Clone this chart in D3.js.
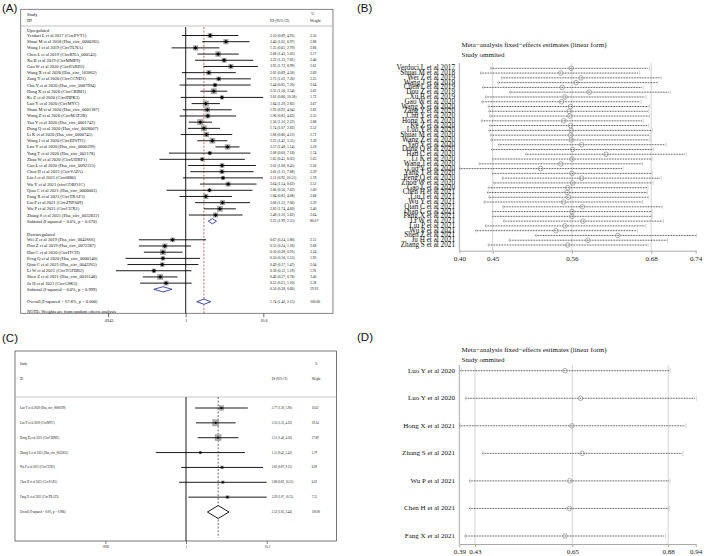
<!DOCTYPE html>
<html><head><meta charset="utf-8">
<script src="https://cdn.jsdelivr.net/npm/d3@7"></script>
<style>body{margin:0;background:#fff}svg{display:block}</style>
</head><body>
<svg id="c" width="709" height="556"></svg>
<script>
// ---------- Panel A data ----------
const aUpStudies = ["Verduci L et al 2017 (CircPVT1)","Shuai M et al 2018 (Hsa_circ_0000285)","Wang J et al 2019 (CircTLNA)","Chen L et al 2019 (CircRNA_000543)","Xu B et al 2019 (CircMMP9)","Gao W et al 2020 (CircPARD3)","Wang X et al 2020 (Hsa_circ_103862)","Zang Y et al 2020 (CircCCND1)","Chu Y et al 2020 (Hsa_circ_0087994)","Hong X et al 2020 (CircCRIM1)","Ke Z et al 2020 (CircHIPK3)","Luo Y et al 2020 (CircMYC)","Shuai M et al 2020 (Hsa_circ_0001387)","Wang Z et al 2020 (CircMAT2B)","Yao Y et al 2020 (Hsa_circ_0001742)","Dong Q et al 2020 (Hsa_circ_0028007)","Li K et al 2020 (Hsa_circ_0000745)","Wang J et al 2020 (CircEPSTI1)","Luo Y et al 2020 (Hsa_circ_0000199)","Yang T et al 2020 (Hsa_circ_002178)","Zhou W et al 2020 (CircUHRF1)","Gao L et al 2020 (Hsa_circ_0092125)","Chen H et al 2021 (CircVAPA)","Liu J et al 2021 (Circ0880)","Wu Y et al 2021 (circCORO1C)","Qian C et al 2021 (Hsa_circ_0000003)","Fang X et al 2021 (CircTRAF3)","Liu P et al 2021 (CircZNF609)","Wu P et al 2021 (CircCUX1)","Zhang S et al 2021 (Hsa_circ_0032822)"];
const aUpES = [2.10,3.40,1.35,2.68,3.22,3.95,2.02,2.73,2.44,2.35,3.01,1.84,1.93,1.96,1.56,1.74,1.88,2.25,3.57,2.08,1.65,3.02,3.01,3.11,3.64,2.06,1.84,3.06,2.83,2.48];
const aUpLo = [0.89,1.65,0.65,1.43,1.33,1.72,0.89,1.03,0.83,1.56,0.86,1.20,0.92,0.83,1.10,1.07,0.86,1.42,2.48,0.60,0.45,1.08,1.15,0.92,1.54,0.56,0.83,1.33,1.74,1.10];
const aUpHi = [4.95,6.97,2.79,5.02,7.81,8.99,4.58,7.26,7.20,3.54,10.58,2.83,4.04,4.62,2.22,2.83,4.12,3.55,5.14,7.18,6.05,8.45,7.88,10.51,8.62,7.62,4.08,7.06,4.60,5.62];
const aUpW = [2.50,2.88,2.86,3.17,2.46,2.61,2.69,2.25,2.04,3.62,1.72,3.67,2.83,2.55,3.88,3.52,2.72,3.39,3.18,1.74,1.65,2.16,2.29,1.78,2.52,1.60,2.68,2.59,3.40,2.64];
const aDownStudies = ["Wei Z et al 2019 (Hsa_circ_0042666)","Dou Z et al 2019 (Hsa_circ_0072387)","Han C et al 2020 (CircITCH)","Peng Q et al 2020 (Hsa_circ_0000140)","Qian C et al 2021 (Hsa_circ_0043265)","Li W et al 2021 (CircTGFBR2)","Shen Z et al 2021 (Hsa_circ_0016148)","Ju H et al 2021 (CircGSK3)"];
const aDownES = [0.67,0.53,0.50,0.50,0.49,0.38,0.46,0.55];
const aDownLo = [0.24,0.24,0.28,0.16,0.17,0.12,0.27,0.25];
const aDownHi = [1.86,1.18,0.91,1.55,1.47,1.19,0.78,1.20];
const aDownW = [2.15,2.68,3.24,1.93,2.04,1.91,3.40,2.38];
const aGroupNames = ["Upregulated","Downregulated"];
const aSubLabels = ["Subtotal  (I-squared = 0.0%, p = 0.670)","Subtotal  (I-squared = 0.0%, p = 0.999)"];
const aSubES = [2.25,0.50], aSubLo = [1.99,0.38], aSubHi = [2.55,0.66], aSubW = [80.07,19.93];
const aOverallLabel = "Overall  (I-squared = 67.8%, p = 0.000)";
const aOverall = [1.74,1.40,2.15,100.00];
const aNote = "NOTE: Weights are from random effects analysis";
const aTickVals = [0.0943,1,10.6], aTickLabels = [".0943","1","10.6"];

// ---------- Panel B data ----------
const bStudies = ["Verduci L et al 2017","Shuai M et al 2018","Wei Z et al 2019","Wang J et al 2019","Chen L et al 2019","Dou Z et al 2019","Xu B et al 2019","Gao W et al 2020","Wang X et al 2020","Zang Y et al 2020","Chu Y et al 2020","Hong X et al 2020","Ke Z et al 2020","Luo Y et al 2020","Shuai M et al 2020","Wang Z et al 2020","Yao Y et al 2020","Dong Q et al 2020","Han C et al 2020","Li K et al 2020","Wang J et al 2020","Luo Y et al 2020","Yang T et al 2020","Peng Q et al 2020","Zhou W et al 2020","Gao L et al 2020","Chen H et al 2021","Liu J et al 2021","Wu Y et al 2021","Qian C et al 2021","Qian C et al 2021","Fang X et al 2021","Li W et al 2021","Liu P et al 2021","Wu P et al 2021","Shen Z et al 2021","Ju H et al 2021","Zhang S et al 2021"];
const bEst = [0.561,0.546,0.575,0.568,0.548,0.587,0.552,0.547,0.560,0.558,0.559,0.550,0.560,0.561,0.560,0.561,0.576,0.563,0.611,0.562,0.546,0.517,0.562,0.576,0.563,0.556,0.555,0.557,0.550,0.577,0.562,0.562,0.578,0.552,0.539,0.628,0.585,0.556];
const bLo = [0.444,0.430,0.460,0.455,0.433,0.472,0.437,0.432,0.441,0.442,0.443,0.431,0.443,0.442,0.444,0.445,0.456,0.446,0.495,0.447,0.428,0.400,0.447,0.461,0.449,0.441,0.440,0.442,0.435,0.462,0.447,0.447,0.463,0.437,0.423,0.509,0.471,0.441];
const bHi = [0.672,0.658,0.689,0.684,0.663,0.702,0.667,0.660,0.672,0.671,0.672,0.663,0.671,0.676,0.673,0.673,0.696,0.678,0.725,0.676,0.662,0.634,0.676,0.689,0.677,0.670,0.669,0.671,0.662,0.691,0.676,0.676,0.692,0.667,0.655,0.740,0.698,0.670];
const bTickVals = [0.400,0.448,0.562,0.676,0.740], bTickLabels = ["0.40","0.45","0.56","0.68","0.74"];
const sensTitle = ["Meta\u2212analysis fixed\u2212effects estimates (linear form)","Study ommited"];

// ---------- Panel C data ----------
const cStudies = ["Luo Y et al 2020 (Hsa_circ_0000199)","Luo Y et al 2020 (CircMYC)","Hong X et al 2021 (CircCRIM1)","Zhang S et al 2021 (Hsa_circ_0032822)","Wu P et al 2021 (CircCUX1)","Chen H et al 2021 (CircVAPA)","Fang X et al 2021 (CircTRAF3)"];
const cES = [2.77,2.35,2.51,1.51,2.82,2.88,3.29];
const cLo = [1.30,1.33,1.40,0.42,0.87,0.82,1.07];
const cHi = [5.90,4.16,4.50,5.43,9.15,10.15,10.15];
const cW = [16.62,29.24,27.89,5.79,6.89,6.02,7.55];
const cOverallLabel = "Overall  (I-squared = 0.0%, p = 0.986)";
const cOverall = [2.52,1.85,3.44,100.00];
const cTickVals = [0.0985,1,10.15], cTickLabels = [".0985","1","10.2"];

// ---------- Panel D data ----------
const dStudies = ["Luo Y et al 2020","Luo Y et al 2020","Hong X et al 2021","Zhang S et al 2021","Wu P et al 2021","Chen H et al 2021","Fang X et al 2021"];
const dEst = [0.636,0.672,0.652,0.676,0.647,0.646,0.636];
const dLo = [0.392,0.403,0.390,0.443,0.413,0.413,0.402];
const dHi = [0.878,0.939,0.915,0.908,0.878,0.876,0.867];
const dTickVals = [0.39,0.4265,0.653,0.876,0.94], dTickLabels = ["0.39","0.43","0.65","0.88","0.94"];

// ---------- drawing ----------
const svg = d3.select("#c");
const serif = "'Liberation Serif','Times New Roman',serif";
const sans = "'Liberation Sans',Arial,sans-serif";
const f2 = d3.format(".2f");
const esText = (e,l,h) => `${f2(e)} (${f2(l)}, ${f2(h)})`;

[["(A)",2,12],["(B)",357,12],["(C)",2,342],["(D)",357,341]].forEach(([t,x,y]) =>
  svg.append("text").attr("x",x).attr("y",y).attr("font-family",sans).attr("font-size",11.5).attr("fill","#111").text(t));

function txt(g,x,y,t,fs,anchor){
  return g.append("text").attr("x",x).attr("y",y).attr("font-family",serif).attr("font-size",fs)
    .attr("dominant-baseline","central").attr("text-anchor",anchor||"start").attr("fill","#111").text(t);
}
function diamond(g,x,c,lo,hi,y,h,stroke){
  g.append("path").attr("d",`M${x(lo)},${y}L${x(c)},${y-h}L${x(hi)},${y}L${x(c)},${y+h}Z`)
   .attr("fill","#fff").attr("stroke",stroke).attr("stroke-width",0.9);
}

// ===== Panel A =====
(function(){
  const g = svg.append("g");
  const box = {l:20.7,t:9.3,r:333,b:313.3};
  const x = d3.scaleLog().domain([aTickVals[0],aTickVals[2]]).range([108.1,263.3]);
  const y = d3.scaleLinear().domain([0,43]).range([35.5,301.7]);
  const fsL = 4.5, fsE = 3.7;
  g.append("rect").attr("x",box.l).attr("y",box.t).attr("width",box.r-box.l).attr("height",box.b-box.t)
   .attr("fill","none").attr("stroke","#666").attr("stroke-width",0.8);
  g.append("line").attr("x1",box.l).attr("x2",box.r).attr("y1",26).attr("y2",26).attr("stroke","#999").attr("stroke-width",0.6);
  txt(g,27,14,"Study",fsL); txt(g,27,20.5,"ID",fsL);
  txt(g,270,20.5,"ES (95% CI)",fsE); txt(g,311,14,"%",fsE); txt(g,310,20.5,"Weight",fsE);
  g.append("line").attr("x1",x(1)).attr("x2",x(1)).attr("y1",27).attr("y2",box.b).attr("stroke","#000").attr("stroke-width",0.9);
  g.append("line").attr("x1",x(aOverall[0])).attr("x2",x(aOverall[0])).attr("y1",27).attr("y2",box.b)
   .attr("stroke","#b5473a").attr("stroke-width",0.8).attr("stroke-dasharray","2,1.6");
  const groups = [
    {name:aGroupNames[0],s:aUpStudies,e:aUpES,lo:aUpLo,hi:aUpHi,w:aUpW,start:0},
    {name:aGroupNames[1],s:aDownStudies,e:aDownES,lo:aDownLo,hi:aDownHi,w:aDownW,start:33}
  ];
  groups.forEach((G,gi)=>{
    txt(g,27,y(G.start-0.85),G.name,fsL);
    G.s.forEach((s,i)=>{
      const yy = y(G.start+i);
      txt(g,27,yy,s,fsL);
      txt(g,270,yy,esText(G.e[i],G.lo[i],G.hi[i]),fsE);
      txt(g,310,yy,f2(G.w[i]),fsE);
      const sz = 3.1*Math.sqrt(G.w[i]);
      g.append("rect").attr("x",x(G.e[i])-sz/2).attr("y",yy-sz/2).attr("width",sz).attr("height",sz).attr("fill","#a9a9a9");
      g.append("line").attr("x1",x(Math.max(G.lo[i],aTickVals[0]))).attr("x2",x(Math.min(G.hi[i],aTickVals[2])))
       .attr("y1",yy).attr("y2",yy).attr("stroke","#000").attr("stroke-width",0.9);
      const d=1.9, cx=x(G.e[i]);
      g.append("path").attr("d",`M${cx-d},${yy}L${cx},${yy-d}L${cx+d},${yy}L${cx},${yy+d}Z`).attr("fill","#000");
    });
    const ys = y(G.start+G.s.length);
    txt(g,27,ys,aSubLabels[gi],fsL);
    txt(g,270,ys,esText(aSubES[gi],aSubLo[gi],aSubHi[gi]),fsE);
    txt(g,310,ys,f2(aSubW[gi]),fsE);
    diamond(g,x,aSubES[gi],aSubLo[gi],aSubHi[gi],ys,2.6,"#2b3a99");
  });
  const yo = y(43);
  txt(g,27,yo,aOverallLabel,fsL);
  txt(g,270,yo,esText(aOverall[0],aOverall[1],aOverall[2]),fsE);
  txt(g,310,yo,f2(aOverall[3]),fsE);
  diamond(g,x,aOverall[0],aOverall[1],aOverall[2],yo,2.6,"#2b3a99");
  txt(g,27,y(44.6),aNote,fsL);
  const ax = g.append("g").attr("transform",`translate(0,${box.b})`)
    .call(d3.axisBottom(x).tickValues(aTickVals).tickFormat((d,i)=>aTickLabels[i]).tickSize(4).tickSizeOuter(0));
  ax.select(".domain").remove();
  ax.selectAll("line").attr("stroke","#333").attr("stroke-width",0.7);
  ax.selectAll("text").attr("font-family",serif).attr("font-size",4.2).attr("fill","#222").attr("dy","0.3em");
})();

// ===== Panel C =====
(function(){
  const g = svg.append("g");
  const box = {l:15,t:351,r:336.5,b:541};
  const x = d3.scaleLog().domain([cTickVals[0],cTickVals[2]]).range([105.3,266.7]);
  const y = d3.scaleLinear().domain([0,7]).range([408,512]);
  const fs = 3.0;
  g.append("rect").attr("x",box.l).attr("y",box.t).attr("width",box.r-box.l).attr("height",box.b-box.t)
   .attr("fill","none").attr("stroke","#555").attr("stroke-width",0.8);
  g.append("line").attr("x1",box.l).attr("x2",box.r).attr("y1",397).attr("y2",397).attr("stroke","#aaa").attr("stroke-width",0.6);
  txt(g,20,363.5,"Study",fs); txt(g,20,379,"ID",fs);
  txt(g,271.7,379,"ES (95% CI)",fs); txt(g,315,363.5,"%",fs); txt(g,311.7,379,"Weight",fs);
  g.append("line").attr("x1",x(1)).attr("x2",x(1)).attr("y1",397).attr("y2",box.b).attr("stroke","#000").attr("stroke-width",0.9);
  g.append("line").attr("x1",x(cOverall[0])).attr("x2",x(cOverall[0])).attr("y1",397).attr("y2",box.b-3)
   .attr("stroke","#444").attr("stroke-width",0.8).attr("stroke-dasharray","2,1.6");
  cStudies.forEach((s,i)=>{
    const yy = y(i);
    txt(g,20,yy,s,fs);
    txt(g,271.7,yy,esText(cES[i],cLo[i],cHi[i]),fs);
    txt(g,311.7,yy,f2(cW[i]),fs);
    const sz = 1.15*Math.sqrt(cW[i]);
    g.append("rect").attr("x",x(cES[i])-sz/2).attr("y",yy-sz/2).attr("width",sz).attr("height",sz).attr("fill","#aaa").attr("stroke","#888").attr("stroke-width",0.3);
    g.append("line").attr("x1",x(cLo[i])).attr("x2",x(Math.min(cHi[i],cTickVals[2]))).attr("y1",yy).attr("y2",yy).attr("stroke","#000").attr("stroke-width",0.9);
    g.append("circle").attr("cx",x(cES[i])).attr("cy",yy).attr("r",1.1).attr("fill","#000");
  });
  const yo = y(7);
  txt(g,20,yo,cOverallLabel,fs);
  txt(g,271.7,yo,esText(cOverall[0],cOverall[1],cOverall[2]),fs);
  txt(g,311.7,yo,f2(cOverall[3]),fs);
  diamond(g,x,cOverall[0],cOverall[1],cOverall[2],yo,6.5,"#000");
  const ax = g.append("g").attr("transform",`translate(0,${box.b})`)
    .call(d3.axisBottom(x).tickValues(cTickVals).tickFormat((d,i)=>cTickLabels[i]).tickSize(3).tickSizeOuter(0));
  ax.select(".domain").remove();
  ax.selectAll("line").attr("stroke","#333").attr("stroke-width",0.6);
  ax.selectAll("text").attr("font-family",serif).attr("font-size",3.2).attr("fill","#222").attr("dy","0.2em");
})();

// ===== Sensitivity panels (B, D) =====
function sensPanel(opt){
  const g = svg.append("g");
  const x = d3.scaleLinear().domain([opt.ticks[0],opt.ticks[opt.ticks.length-1]]).range([459.3,695.7]);
  const y = d3.scaleLinear().domain([0,opt.names.length-1]).range(opt.yr);
  txt(g,461.5,opt.titleY,sensTitle[0],7);
  txt(g,461.5,opt.titleY+9.5,sensTitle[1],7);
  opt.ticks.slice(1,-1).forEach(v=>{
    g.append("line").attr("x1",x(v)).attr("x2",x(v)).attr("y1",opt.gTop).attr("y2",opt.axisY).attr("stroke","#d4d4d4").attr("stroke-width",1);
  });
  g.append("line").attr("x1",x(opt.ticks[0])).attr("x2",x(opt.ticks[0])).attr("y1",opt.gTop).attr("y2",opt.axisY).attr("stroke","#aaa").attr("stroke-width",1);
  const ax = g.append("g").attr("transform",`translate(0,${opt.axisY})`)
    .call(d3.axisBottom(x).tickValues(opt.ticks).tickFormat((d,i)=>opt.labels[i]).tickSize(3).tickSizeOuter(0));
  ax.select(".domain").attr("stroke","#aaa");
  ax.selectAll("line").attr("stroke","#aaa");
  ax.selectAll("text").attr("font-family",serif).attr("font-size",7).attr("fill","#222").attr("dy","0.55em");
  opt.names.forEach((n,i)=>{
    const yy = y(i);
    txt(g,455,yy,n,opt.fs,"end");
    g.append("line").attr("x1",x(opt.lo[i])).attr("x2",x(opt.hi[i])).attr("y1",yy).attr("y2",yy)
      .attr("stroke","#3a3a3a").attr("stroke-width",0.9).attr("stroke-dasharray","0.9,0.7");
    [opt.lo[i],opt.hi[i]].forEach(v=>{
      g.append("line").attr("x1",x(v)+1).attr("x2",x(v)+1).attr("y1",yy-opt.cap).attr("y2",yy+opt.cap).attr("stroke","#c4c4c4").attr("stroke-width",0.8);
    });
    g.append("circle").attr("cx",x(opt.est[i])).attr("cy",yy).attr("r",2.3).attr("fill","none").attr("stroke","#9a9a9a").attr("stroke-width",0.8);
  });
}
sensPanel({names:bStudies,est:bEst,lo:bLo,hi:bHi,ticks:bTickVals,labels:bTickLabels,yr:[68.3,245],titleY:45,gTop:63,axisY:250.7,fs:7.2,cap:2});
sensPanel({names:dStudies,est:dEst,lo:dLo,hi:dHi,ticks:dTickVals,labels:dTickLabels,yr:[370.7,536],titleY:350,gTop:365,axisY:544,fs:7,cap:2.5});
</script></body></html>
